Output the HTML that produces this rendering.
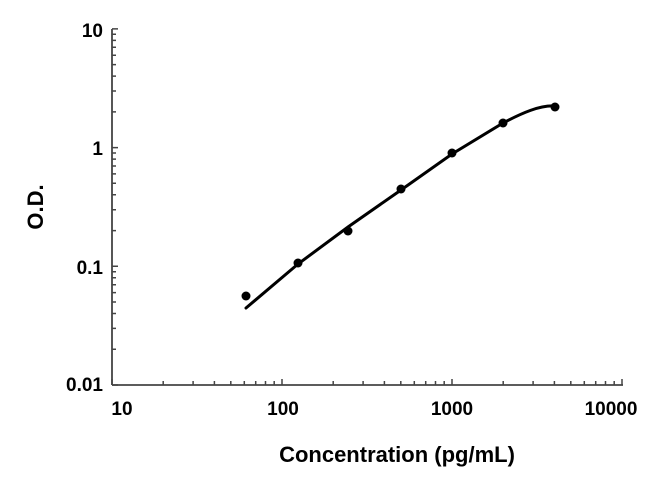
<!DOCTYPE html>
<html><head><style>body{margin:0;background:#fff}svg{display:block}</style></head><body>
<svg width="650" height="484" xmlns="http://www.w3.org/2000/svg" font-family="Liberation Sans, sans-serif" font-weight="bold">
<g stroke="#444" stroke-width="1.8" fill="none">
<line x1="112" y1="29" x2="112" y2="385"/>
<line x1="112" y1="385" x2="623" y2="385"/>
</g>
<path d="M246,308 L298,264 L348,227 L401,190 L452,154 L503,123 C522,113 540,105 555,106" stroke="#000" stroke-width="3" fill="none" stroke-linecap="round"/>
<g fill="#000">
<circle cx="246" cy="296" r="4.5"/><circle cx="298" cy="263" r="4.5"/><circle cx="348" cy="231" r="4.5"/><circle cx="401" cy="189" r="4.5"/><circle cx="452" cy="153" r="4.5"/><circle cx="503" cy="123" r="4.5"/><circle cx="555" cy="107" r="4.5"/>
</g>
<g font-size="19" fill="#000" text-anchor="end">
<text x="103" y="37">10</text><text x="103" y="155">1</text><text x="103" y="274">0.1</text><text x="103" y="391">0.01</text>
</g>
<g font-size="19" fill="#000" text-anchor="middle">
<text x="122" y="415">10</text><text x="283" y="415">100</text><text x="452" y="415">1000</text><text x="611" y="415">10000</text>
<text x="397" y="462" font-size="22">Concentration (pg/mL)</text>
<text transform="translate(43,207) rotate(-90)" font-size="22">O.D.</text>
</g>
<g stroke="#444" stroke-width="1.5">
<path id="tp" d=""/>
</g>
</svg>
<script>
var d="";
for(var k=0;k<3;k++){for(var m=1;m<=10;m++){var y=385-(k+Math.log10(m))*118.7;var L=(m==1||m==10)?6:4;d+="M112,"+y.toFixed(1)+"h"+L;}}
for(var k=0;k<3;k++){for(var m=1;m<=10;m++){var x=112+(k+Math.log10(m))*170;var L=(m==1||m==10)?6:4;d+="M"+x.toFixed(1)+",385v-"+L;}}
document.getElementById("tp").setAttribute("d",d);
</script>
</body></html>
